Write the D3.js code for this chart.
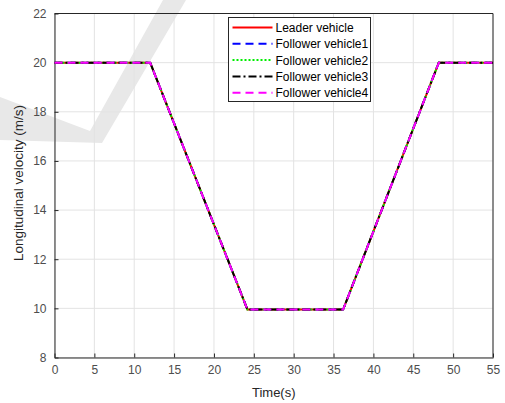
<!DOCTYPE html>
<html>
<head>
<meta charset="utf-8">
<script src="https://cdn.jsdelivr.net/npm/d3@7"></script>
<style>
  body { margin: 0; background: #fff; }
  text { font-family: "Liberation Sans", Arial, sans-serif; }
</style>
</head>
<body>
<svg id="chart" width="505" height="403"></svg>
<script>
// time (s) and speed (m/s)
var times = [0, 12, 24.2, 36.2, 48.2, 55];
var leader = [20, 20, 9.95, 9.95, 20, 20];
var follower1 = [20, 20, 9.95, 9.95, 20, 20];
var follower2 = [20, 20, 9.95, 9.95, 20, 20];
var follower3 = [20, 20, 9.95, 9.95, 20, 20];
var follower4 = [20, 20, 9.95, 9.95, 20, 20];
var seriesNames = ["Leader vehicle", "Follower vehicle1", "Follower vehicle2", "Follower vehicle3", "Follower vehicle4"];
var xTicks = d3.range(0, 56, 5);
var yTicks = d3.range(8, 23, 2);

var series = [
  {name: seriesNames[0], values: leader, color: "#ff0000", dash: null},
  {name: seriesNames[1], values: follower1, color: "#0000ff", dash: "8,5"},
  {name: seriesNames[2], values: follower2, color: "#00ee00", dash: "2,2"},
  {name: seriesNames[3], values: follower3, color: "#000000", dash: "8,3,2,3"},
  {name: seriesNames[4], values: follower4, color: "#ff00ff", dash: "8,5"}
];

var svg = d3.select("#chart");
var m = {left: 54.5, right: 12, top: 13.5, bottom: 45.5};
var W = 505, H = 403;

var x = d3.scaleLinear().domain([0, 55]).range([m.left, W - m.right]);
var y = d3.scaleLinear().domain([8, 22]).range([H - m.bottom, m.top]);

// faint watermark check mark behind the plot
svg.append("path")
   .attr("d", "M0,97 L90,131 L163,0 L186,0 L102,143 L0,140 Z")
   .attr("fill", "#e8e8e8");

// grid
svg.append("g").selectAll("line").data(xTicks).join("line")
   .attr("x1", d => x(d)).attr("x2", d => x(d))
   .attr("y1", y(8)).attr("y2", y(22))
   .attr("stroke", "#e3e3e3").attr("stroke-width", 1);
svg.append("g").selectAll("line").data(yTicks).join("line")
   .attr("y1", d => y(d)).attr("y2", d => y(d))
   .attr("x1", x(0)).attr("x2", x(55))
   .attr("stroke", "#e3e3e3").attr("stroke-width", 1);

// axes
var xAxis = svg.append("g")
   .attr("transform", "translate(0," + y(8) + ")")
   .call(d3.axisBottom(x).tickValues(xTicks).tickSizeInner(-4).tickSizeOuter(0).tickPadding(8));
var yAxis = svg.append("g")
   .attr("transform", "translate(" + x(0) + ",0)")
   .call(d3.axisLeft(y).tickValues(yTicks).tickSizeInner(-4).tickSizeOuter(0).tickPadding(8));
[xAxis, yAxis].forEach(function(a) {
  a.select(".domain").attr("stroke", "#262626");
  a.selectAll(".tick line").attr("stroke", "#262626");
  a.selectAll(".tick text").attr("fill", "#4d4d4d").style("font-size", "12px")
   .style("font-family", "'Liberation Sans', Arial, sans-serif");
});

// box top/right
svg.append("path")
   .attr("d", "M" + x(0) + "," + y(22) + "H" + x(55) + "V" + y(8))
   .attr("fill", "none").attr("stroke", "#262626");

// lines
var line = d3.line().x((d, i) => x(times[i])).y(d => y(d));
svg.append("g").selectAll("path").data(series).join("path")
   .attr("d", d => line(d.values))
   .attr("fill", "none")
   .attr("stroke", d => d.color)
   .attr("stroke-width", 2)
   .attr("stroke-dasharray", d => d.dash);

// axis labels
svg.append("text").attr("x", (x(0) + x(55)) / 2).attr("y", 397)
   .attr("text-anchor", "middle").attr("fill", "#262626").style("font-size", "13px")
   .text("Time(s)");
svg.append("text")
   .attr("transform", "translate(23,183) rotate(-90)")
   .attr("text-anchor", "middle").attr("fill", "#262626").style("font-size", "13.5px")
   .text("Longitudinal velocity (m/s)");

// legend
var lg = svg.append("g").attr("transform", "translate(228.5,17.5)");
lg.append("rect").attr("width", 142).attr("height", 84)
  .attr("fill", "#fff").attr("stroke", "#262626").attr("stroke-width", 1);
var items = lg.selectAll("g").data(series).join("g")
  .attr("transform", (d, i) => "translate(0," + (10 + i * 16.3) + ")");
items.append("line").attr("x1", 4).attr("x2", 44)
  .attr("stroke", d => d.color).attr("stroke-width", 2)
  .attr("stroke-dasharray", d => d.dash);
items.append("text").attr("x", 47).attr("y", 4.5)
  .attr("fill", "#000").style("font-size", "12px")
  .text(d => d.name);
</script>
</body>
</html>
